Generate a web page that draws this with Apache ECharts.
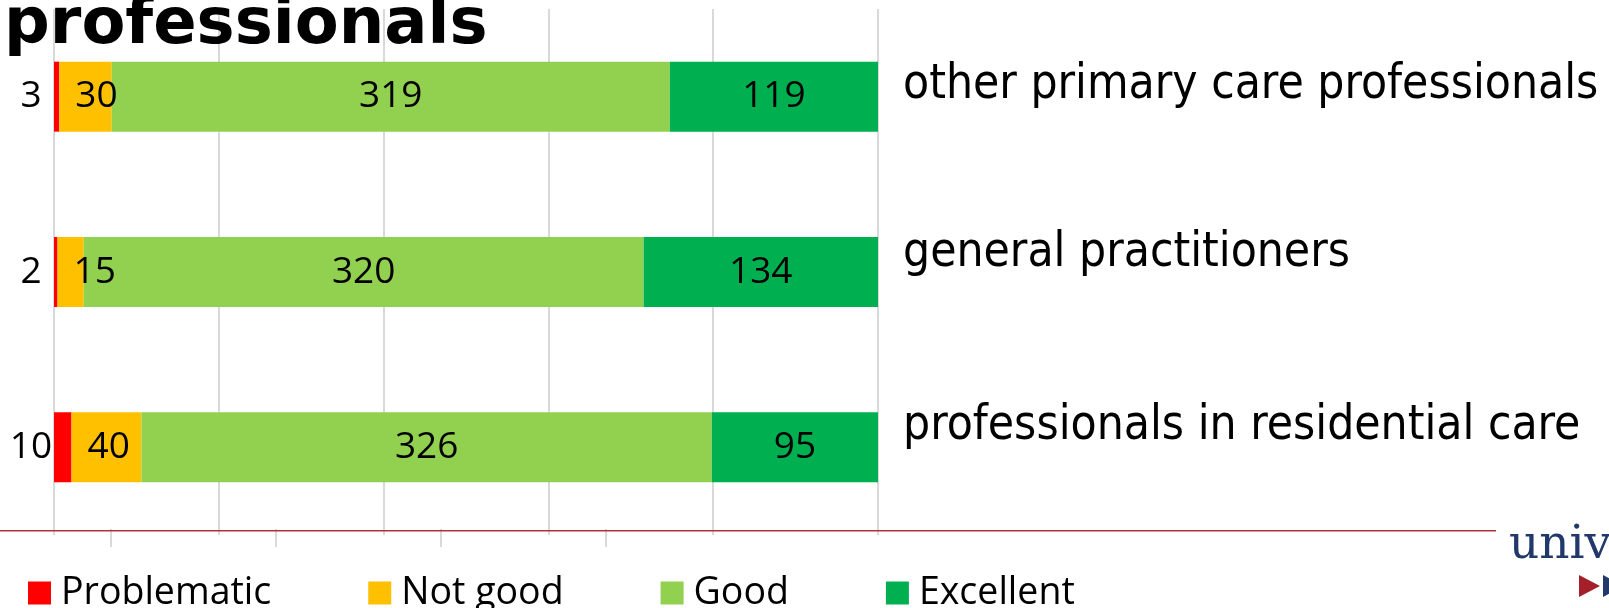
<!DOCTYPE html>
<html>
<head>
<meta charset="utf-8">
<script src="https://cdn.jsdelivr.net/npm/echarts@6/dist/echarts.min.js"></script>
<style>html,body{margin:0;padding:0;background:#fff;}#c{width:1609px;height:608px;}</style>
</head>
<body>
<div id="c"></div>
<script>
const titleText = 'professionals';
const categories = ['other primary care professionals', 'general practitioners', 'professionals in residential care'];
const seriesNames = ['Problematic', 'Not good', 'Good', 'Excellent'];
const problematic = [3, 2, 10];
const notGood = [30, 15, 40];
const good = [319, 320, 326];
const excellent = [119, 134, 95];
const axisMax = 471;
const minorTicks = [32.6, 126.8, 221, 315.2];
const logoText = 'unive';

const colors = ['#FF0000', '#FFC000', '#92D050', '#00B050'];
const chart = echarts.init(document.getElementById('c'), null, {renderer: 'canvas'});
const labelFont = {fontFamily: 'Open Sans', fontSize: 37, color: '#000'};
const catFont = "'DejaVu Sans Condensed', 'DejaVu Sans'";

function mk(name, data, color, label) {
  return {
    name: name, type: 'bar', stack: 'all', data: data, barWidth: 70,
    itemStyle: {color: color}, label: Object.assign({show: true}, labelFont, label),
    emphasis: {disabled: true}
  };
}

chart.setOption({
  animation: false,
  title: {
    text: titleText, left: 0, top: -6, padding: [0, 0, 0, 4],
    textStyle: {fontFamily: 'DejaVu Sans', fontWeight: 'bold', fontSize: 64, lineHeight: 64, color: '#000'}
  },
  legend: {
    data: seriesNames, left: 28, top: 574, padding: 0, icon: 'rect', itemWidth: 23, itemHeight: 23, itemGap: 97,
    textStyle: {fontFamily: 'Open Sans', fontSize: 37.5, color: '#000', padding: [0, 0, 0, 5]}
  },
  grid: {left: 54, right: 731, top: 9, bottom: 73, containLabel: false},
  xAxis: [{
    type: 'value', min: 0, max: axisMax, interval: axisMax / 5,
    axisLine: {show: false}, axisTick: {show: false}, axisLabel: {show: false},
    splitLine: {show: true, lineStyle: {color: '#d9d9d9', width: 2}}
  }, {
    type: 'value', min: 0, max: axisMax, position: 'bottom', offset: -6,
    axisLine: {show: false}, axisLabel: {show: false}, splitLine: {show: false},
    axisTick: {show: true, customValues: minorTicks, length: 18, inside: false, lineStyle: {color: '#d9d9d9', width: 2}}
  }],
  yAxis: {
    type: 'category', data: categories, inverse: true, position: 'right',
    axisLine: {show: false}, axisTick: {show: false},
    axisLabel: {
      margin: 25, align: 'left',
      formatter: function (v, i) { return '{r' + i + '|' + v + '}'; },
      rich: {
        r0: {fontFamily: catFont, fontSize: 47.5, color: '#000', padding: [0, 0, 22, 0]},
        r1: {fontFamily: catFont, fontSize: 47.5, color: '#000', padding: [0, 0, 36, 0]},
        r2: {fontFamily: catFont, fontSize: 47.5, color: '#000', padding: [0, 0, 42, 0]}
      }
    }
  },
  series: [
    mk(seriesNames[0], problematic, colors[0], {position: [-23, '50%'], align: 'center', verticalAlign: 'middle'}),
    mk(seriesNames[1], notGood, colors[1], {position: 'insideLeft', distance: 16}),
    mk(seriesNames[2], good, colors[2], {position: 'inside'}),
    mk(seriesNames[3], excellent, colors[3], {position: 'inside'})
  ],
  graphic: [
    {type: 'line', z: 100, shape: {x1: 0, y1: 530.7, x2: 1496, y2: 530.7}, style: {stroke: '#b0303c', lineWidth: 1.5}},
    {type: 'text', z: 100, style: {x: 1509, y: 546, text: logoText, fontFamily: 'DejaVu Serif', fontSize: 47, fill: '#22386a', verticalAlign: 'middle'}},
    {type: 'polygon', z: 100, shape: {points: [[1579, 575], [1600, 586], [1579, 597]]}, style: {fill: '#a51f2b'}},
    {type: 'polygon', z: 100, shape: {points: [[1603, 575], [1624, 586], [1603, 597]]}, style: {fill: '#22386a'}}
  ]
});
</script>
</body>
</html>
